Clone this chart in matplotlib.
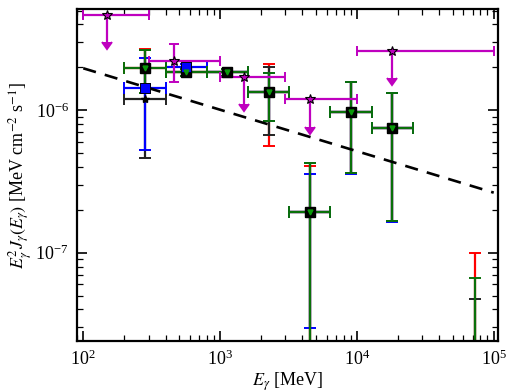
import numpy as np
import matplotlib
matplotlib.use('Agg')
import matplotlib.pyplot as plt
from matplotlib.ticker import LogLocator, NullFormatter

plt.rcParams['font.family'] = 'serif'
plt.rcParams['font.serif'] = ['Liberation Serif', 'DejaVu Serif']
plt.rcParams['mathtext.fontset'] = 'stix'

# energy bins (MeV)
E = [283, 566, 1131, 2263, 4525, 9051, 18102, 72408]
E_lo = [200, 400, 800, 1600, 3200, 6400, 12800, 51200]
E_hi = [400, 800, 1600, 3200, 6400, 12800, 25600, 102400]

# red analysis
red_y = [1.99e-6, 1.85e-6, 1.84e-6, 1.35e-6, 1.92e-7, 9.78e-7, 7.55e-7, 1.0e-8]
red_up = [2.68e-6, 1.95e-6, 1.94e-6, 2.11e-6, 4.06e-7, 1.57e-6, 1.33e-6, 1.0e-7]
red_lo = [1.32e-6, 1.75e-6, 1.75e-6, 5.61e-7, 1e-9, 3.6e-7, 1.67e-7, 1e-9]

# black analysis
blk_y = [1.20e-6, 1.85e-6, 1.84e-6, 1.35e-6, 1.92e-7, 9.78e-7, 7.55e-7, 1.0e-8]
blk_up = [2.65e-6, 1.95e-6, 1.94e-6, 2.00e-6, 4.28e-7, 1.57e-6, 1.33e-6, 4.7e-8]
blk_lo = [4.6e-7, 1.75e-6, 1.75e-6, 6.7e-7, 1e-9, 3.6e-7, 1.67e-7, 1e-9]

# blue analysis (7 bins)
blu_y = [1.43e-6, 2.02e-6, 1.84e-6, 1.35e-6, 1.92e-7, 9.78e-7, 7.55e-7]
blu_up = [2.32e-6, 2.10e-6, 1.94e-6, 1.82e-6, 3.57e-7, 1.57e-6, 1.33e-6]
blu_lo = [5.26e-7, 1.94e-6, 1.75e-6, 8.45e-7, 2.96e-8, 3.55e-7, 1.65e-7]

# green analysis
grn_y = [1.99e-6, 1.85e-6, 1.84e-6, 1.35e-6, 1.92e-7, 9.78e-7, 7.55e-7, 1.0e-8]
grn_up = [2.65e-6, 1.95e-6, 1.94e-6, 1.82e-6, 4.28e-7, 1.57e-6, 1.33e-6, 6.6e-8]
grn_lo = [1.32e-6, 1.75e-6, 1.75e-6, 8.45e-7, 1e-9, 3.6e-7, 1.67e-7, 1e-9]

# magenta points / upper limits
mag_E = [150, 460, 1490, 4570, 18000]
mag_lo = [100, 300, 1000, 3000, 10000]
mag_hi = [300, 1000, 3000, 10000, 100000]
mag_y = [4.68e-6, 2.22e-6, 1.72e-6, 1.19e-6, 2.61e-6]
mag_up = [4.68e-6, 2.91e-6, 1.72e-6, 1.19e-6, 2.61e-6]
mag_dn = [3.0e-6, 1.58e-6, 1.10e-6, 0.76e-6, 1.67e-6]
mag_ul = [True, False, True, True, True]

# power-law model
model_E = [100, 100000]
model_y = [1.97e-6, 2.64e-7]


def xerr(x, lo, hi):
    x = np.array(x, float)
    return [x - np.array(lo), np.array(hi) - x]


def yerr(y, lo, up):
    y = np.array(y, float)
    return [y - np.array(lo), np.array(up) - y]


fig = plt.figure(figsize=(5.1, 3.92), dpi=100)
ax = fig.add_axes([0.151, 0.130, 0.825, 0.846])

eb = dict(fmt='none', elinewidth=1.6, capsize=4.3, capthick=1.4)
ax.errorbar(E, red_y, xerr=xerr(E, E_lo, E_hi), yerr=yerr(red_y, red_lo, red_up),
            ecolor='red', zorder=2, **eb)
ax.errorbar(E, blk_y, xerr=xerr(E, E_lo, E_hi), yerr=yerr(blk_y, blk_lo, blk_up),
            ecolor='#222222', zorder=2.1, **eb)
ax.errorbar(E[:7], blu_y, xerr=xerr(E[:7], E_lo[:7], E_hi[:7]), yerr=yerr(blu_y, blu_lo, blu_up),
            ecolor='blue', zorder=2.2, **eb)
ax.errorbar(E, grn_y, xerr=xerr(E, E_lo, E_hi), yerr=yerr(grn_y, grn_lo, grn_up),
            ecolor='#0a700a', zorder=2.3, **eb)

# markers: blue shows on top only in the two lowest bins
ax.plot(E[:7], blu_y, 's', color='blue', mec='k', mew=0.6, ms=6.5, zorder=4.9)
ax.plot(E, red_y, 's', color='k', ms=6.5, zorder=5)
ax.plot(E, blk_y, '*', color='k', ms=6, zorder=5.1)
ax.plot(E[:2], blu_y[:2], 's', color='blue', mec='k', mew=0.6, ms=6.5, zorder=5.2)
ax.plot(E, grn_y, 'v', color='#0a9a0a', ms=3.5, zorder=5.3)

mag = ax.errorbar(mag_E, mag_y, xerr=xerr(mag_E, mag_lo, mag_hi), yerr=yerr(mag_y, mag_dn, mag_up),
                  uplims=mag_ul, fmt='none', ecolor='m', elinewidth=1.6, capsize=3.5,
                  capthick=1.4, zorder=3)
for cl in mag[1]:
    cl.set_color('m')
    cl.set_markerfacecolor('m')
    cl.set_markeredgecolor('m')
ax.plot(mag_E, mag_y, '*', mfc='m', mec='k', mew=0.8, ms=7, zorder=6)

ax.plot(model_E, model_y, 'k--', lw=1.9, dashes=(5, 3.5), zorder=4)

ax.set_xscale('log')
ax.set_yscale('log')
ax.set_xlim(90, 1.07e5)
ax.set_ylim(2.4e-8, 5.1e-6)
ax.yaxis.set_major_locator(LogLocator(base=10))
ax.yaxis.set_minor_formatter(NullFormatter())
ax.xaxis.set_minor_formatter(NullFormatter())

ax.tick_params(which='both', direction='in', top=True, right=True, labelsize=13)
ax.tick_params(which='major', length=7, width=1.2, pad=6)
ax.tick_params(which='minor', length=4, width=0.9)
for s in ax.spines.values():
    s.set_linewidth(1.6)

ax.set_xlabel(r'$E_\gamma$ [MeV]', fontsize=13, labelpad=1)
ax.set_ylabel(r'$E_\gamma^2 J_\gamma(E_\gamma)$ [MeV cm$^{-2}$ s$^{-1}$]', fontsize=13, labelpad=1)

fig.savefig('out.png', dpi=100)
